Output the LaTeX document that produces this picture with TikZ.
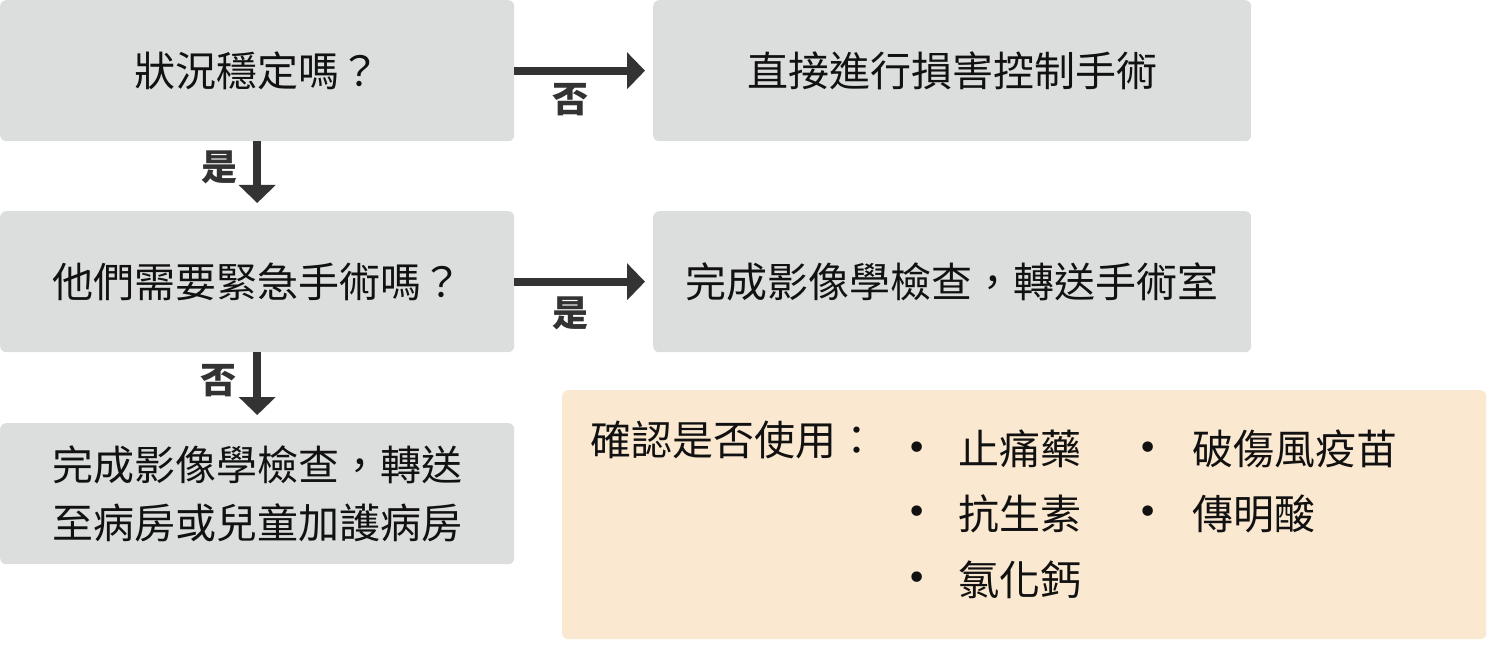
\documentclass[tikz,border=0pt]{standalone}
\usepackage{fontspec}
\setmainfont{Noto Sans CJK TC}
\newfontfamily\bulletfont{DejaVu Sans}
\usetikzlibrary{arrows.meta}
\definecolor{boxgray}{HTML}{DCDDDD}
\definecolor{boxbeige}{HTML}{FAE8D1}
\definecolor{arrowdark}{HTML}{333333}
\definecolor{textdark}{HTML}{111111}
\begin{document}
\begin{tikzpicture}[x=1pt,y=-1pt,
  flowbox/.style={fill=boxgray, rounded corners=6pt, anchor=north west, inner sep=0pt,
    align=center, text=textdark, font=\fontsize{41}{58}\selectfont},
  notebox/.style={fill=boxbeige, rounded corners=6pt, anchor=north west, inner sep=0pt},
  flowarrow/.style={draw=arrowdark, line width=8pt, shorten >=8pt,
    -{Triangle[width=36pt,length=18pt]}},
  lbl/.style={font=\fontsize{36}{36}\selectfont\bfseries, text=arrowdark, inner sep=0pt},
  item/.style={anchor=west, inner sep=0pt, text=textdark, font=\fontsize{41}{41}\selectfont},
  bulletmark/.style={inner sep=0pt, text=textdark, font=\bulletfont\fontsize{36}{36}\selectfont}]
\useasboundingbox (0,0) rectangle (1487,652);
% boxes
\node[flowbox, minimum width=514pt, minimum height=141pt] (b1) at (0,0) {狀況穩定嗎？};
\node[flowbox, minimum width=598pt, minimum height=141pt] (b2) at (653,0) {直接進行損害控制手術};
\node[flowbox, minimum width=514pt, minimum height=141pt] (b3) at (0,211) {他們需要緊急手術嗎？};
\node[flowbox, minimum width=598pt, minimum height=141pt] (b4) at (653,211) {完成影像學檢查，轉送手術室};
\node[flowbox, minimum width=514pt, minimum height=141pt] (b5) at (0,423) {完成影像學檢查，轉送\\至病房或兒童加護病房};
\node[notebox, minimum width=924pt, minimum height=249pt] (b6) at (562,390) {};
% arrows
\draw[flowarrow] (b1.east) -- (b2.west);
\draw[flowarrow] (b3.east) -- (b4.west);
\draw[flowarrow] (b1.south) -- (b3.north);
\draw[flowarrow] (b3.south) -- (b5.north);
% labels
\node[lbl] (l1) at (570,100) {否};
\node[lbl] (l2) at (219,167) {是};
\node[lbl] (l3) at (570,313) {是};
\node[lbl] (l4) at (218,381) {否};
% note content
\node[item] (hdr) at (590,440) {確認是否使用：};
\node[bulletmark] (d1) at (917,451) {•};
\node[bulletmark] (d2) at (917,515) {•};
\node[bulletmark] (d3) at (917,581) {•};
\node[bulletmark] (d4) at (1148,451) {•};
\node[bulletmark] (d5) at (1148,515) {•};
\node[item] (i1) at (958,449) {止痛藥};
\node[item] (i2) at (958,514) {抗生素};
\node[item] (i3) at (958,580) {氯化鈣};
\node[item] (i4) at (1192,449) {破傷風疫苗};
\node[item] (i5) at (1192,514) {傳明酸};
\end{tikzpicture}
\end{document}
